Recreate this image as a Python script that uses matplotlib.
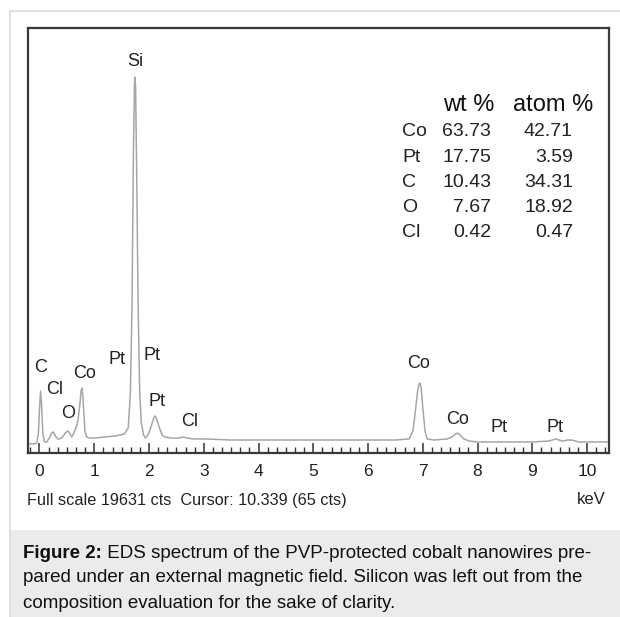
import matplotlib
matplotlib.use("Agg")
import matplotlib.pyplot as plt
from matplotlib.patches import Rectangle
from matplotlib.ticker import MultipleLocator

# ---------------- data ----------------
energy_kev = [-0.21, -0.10, -0.05, -0.02, 0.00, 0.02, 0.04, 0.06, 0.09, 0.13,
              0.18, 0.22, 0.25, 0.28, 0.33, 0.37, 0.42, 0.47, 0.52, 0.55,
              0.59, 0.62, 0.67, 0.70, 0.73, 0.76, 0.775, 0.79, 0.81, 0.83,
              0.86, 0.92, 1.00, 1.20, 1.40, 1.55, 1.62, 1.66, 1.69, 1.715,
              1.735, 1.745, 1.755, 1.775, 1.80, 1.83, 1.86, 1.90, 1.94, 1.98,
              2.03, 2.08, 2.11, 2.14, 2.19, 2.24, 2.29, 2.40, 2.55, 2.62,
              2.70, 2.80, 3.00, 3.50, 4.00, 4.50, 5.00, 5.50, 6.00, 6.50,
              6.75, 6.82, 6.86, 6.90, 6.93, 6.95, 6.97, 7.00, 7.04, 7.08,
              7.20, 7.45, 7.53, 7.60, 7.64, 7.68, 7.75, 7.85, 8.00, 8.50,
              9.00, 9.30, 9.43, 9.55, 9.65, 9.72, 9.85, 10.00, 10.40]
counts = [420, 420, 460, 920, 2080, 2860, 2080, 920, 510, 510,
          690, 920, 970, 830, 650, 650, 740, 920, 1020, 920,
          740, 880, 1200, 1480, 2080, 2860, 3000, 2680, 1850, 1020,
          740, 690, 690, 740, 790, 880, 1160, 2770, 6930, 13860,
          17090, 17370, 16860, 12930, 6930, 2770, 1390, 830, 690, 830,
          1160, 1570, 1710, 1570, 1160, 830, 740, 690, 690, 740,
          690, 650, 650, 600, 600, 600, 600, 600, 600, 600,
          650, 1020, 1850, 2770, 3190, 3230, 3000, 2080, 1020, 650,
          600, 650, 740, 880, 920, 830, 650, 550, 510, 510,
          510, 550, 650, 550, 600, 600, 510, 510, 510]
full_scale_cts = 19631

peak_names = ["Si", "C", "Cl", "O", "Co", "Pt", "Pt", "Pt", "Cl",
              "Co", "Co", "Pt", "Pt"]

table_elements = ["Co", "Pt", "C", "O", "Cl"]
wt_percent = ["63.73", "17.75", "10.43", "7.67", "0.42"]
atom_percent = ["42.71", "3.59", "34.31", "18.92", "0.47"]

x_ticks = list(range(0, 11))
status_text = "Full scale 19631 cts  Cursor: 10.339 (65 cts)"
unit_text = "keV"
caption_bold = "Figure 2:"
caption_lines = [" EDS spectrum of the PVP-protected cobalt nanowires pre-",
                 "pared under an external magnetic field. Silicon was left out from the",
                 "composition evaluation for the sake of clarity."]

# ---------------- layout ----------------
W, H = 620, 617
plt.rcParams['font.family'] = ['Liberation Sans', 'DejaVu Sans']
fig = plt.figure(figsize=(W / 100, H / 100), dpi=100)


def fx(px):
    return px / W


def fy(py):
    return 1 - py / H


# outer frame and caption background
fig.patches.append(Rectangle((fx(10), fy(617)), fx(640) - fx(10), fy(11) - fy(617),
                             transform=fig.transFigure, facecolor='white',
                             edgecolor='#dcdcdc', lw=1.2, zorder=-5))
fig.patches.append(Rectangle((fx(10.6), fy(617)), fx(620) - fx(10.6), fy(530) - fy(617),
                             transform=fig.transFigure, facecolor='#ebebeb',
                             edgecolor='none', zorder=-4))

ax_l, ax_r, ax_t, ax_b = 28, 609, 28, 453
ax = fig.add_axes([fx(ax_l), fy(ax_b), fx(ax_r - ax_l), fy(ax_t) - fy(ax_b)])
ax.set_zorder(2)
ax.set_facecolor('white')
ax.plot(energy_kev, counts, color='#a6a6a6', lw=1.1)
ax.set_xlim(-0.21, 10.40)
ax.set_ylim(0, full_scale_cts)
for s in ax.spines.values():
    s.set_color('#3a3a3a')
    s.set_linewidth(1.6)
ax.set_xticks(x_ticks)
ax.set_xticklabels([])
ax.xaxis.set_minor_locator(MultipleLocator(1 / 6))
ax.tick_params(axis='x', which='major', direction='in', length=7, width=1.1, color='#333333')
ax.tick_params(axis='x', which='minor', direction='in', length=4, width=1.0, color='#333333')
ax.set_yticks([])

# tick labels below axis
for t in x_ticks:
    xpx = 39.5 + t * 54.75
    fig.text(fx(xpx), fy(471), str(t), ha='center', va='center', fontsize=12.5,
             color='#222222', zorder=3)

# peak labels (pixel centres)
label_pos = [(135, 62), (40.7, 368), (55, 390), (67.7, 414), (85, 373), (116.7, 360),
             (151.7, 356), (156.7, 401), (190, 422), (419, 364), (458, 420),
             (499, 427), (555, 427)]
for name, (px, py) in zip(peak_names, label_pos):
    fig.text(fx(px), fy(py), name, ha='center', va='center', fontsize=13,
             color='#222222', zorder=3)

# composition table
fig.text(fx(469), fy(105), "wt %", ha='center', va='center', fontsize=17,
         color='#111111', zorder=3)
fig.text(fx(553), fy(105), "atom %", ha='center', va='center', fontsize=17,
         color='#111111', zorder=3)
for i, (el, w, a) in enumerate(zip(table_elements, wt_percent, atom_percent)):
    ypx = 132 + i * 25.2
    fig.text(fx(402), fy(ypx), el, ha='left', va='center', fontsize=14, color='#222222', zorder=3)
    fig.text(fx(491), fy(ypx), w, ha='right', va='center', fontsize=14, color='#222222', zorder=3)
    fig.text(fx(573), fy(ypx), a, ha='right', va='center', fontsize=14, color='#222222', zorder=3)

# status line
fig.text(fx(27), fy(500), status_text, ha='left', va='center', fontsize=11.7, color='#222222')
fig.text(fx(591), fy(500), unit_text, ha='center', va='center', fontsize=12, color='#222222')

# caption
cap_y = [553, 578, 603]
t0 = fig.text(fx(23), fy(cap_y[0]), caption_bold, ha='left', va='center', fontsize=13.5,
              fontweight='bold', color='#111111')
fig.canvas.draw()
bb = t0.get_window_extent()
fig.text(bb.x1 / W, fy(cap_y[0]), caption_lines[0], ha='left', va='center', fontsize=13.5,
         color='#111111')
for line, yy in zip(caption_lines[1:], cap_y[1:]):
    fig.text(fx(23), fy(yy), line, ha='left', va='center', fontsize=13.5, color='#111111')

fig.savefig("out.png", dpi=100)
